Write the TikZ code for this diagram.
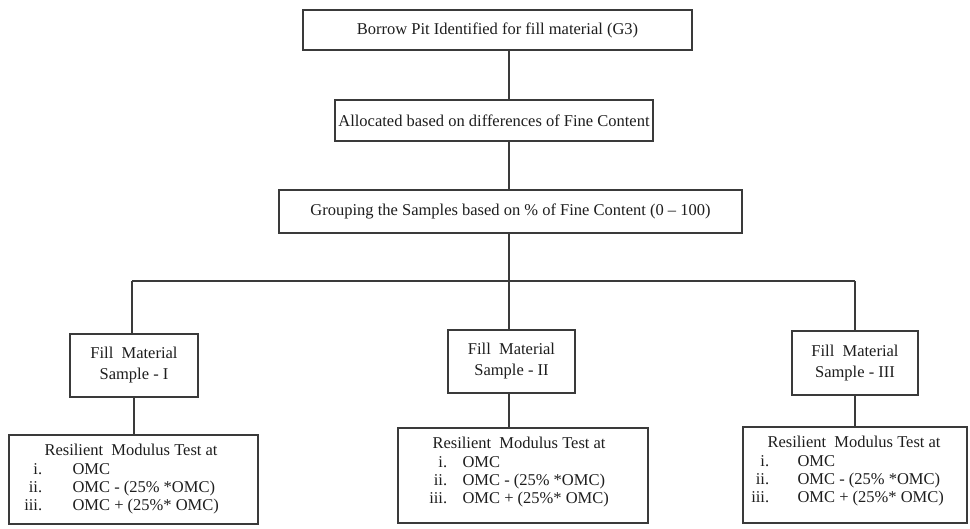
\documentclass[tikz,border=0pt]{standalone}
\usepackage{fontspec}
\setmainfont{Liberation Serif}
\usetikzlibrary{calc}
\definecolor{ln}{HTML}{3A3A3A}
\definecolor{tx}{HTML}{1E1E1E}
\newcommand{\rmtest}[4]{%
  \node[txt,anchor=base west] (#1t) at ($(#1.north west)+(#2,21)$) {Resilient\ \ Modulus Test at};
  \node[txt,anchor=base east] (#1a) at ($(#1.north west)+(#3,40)$) {i.};
  \node[txt,anchor=base east] (#1b) at ($(#1.north west)+(#3,58)$) {ii.};
  \node[txt,anchor=base east] (#1c) at ($(#1.north west)+(#3,76)$) {iii.};
  \node[txt,anchor=base west] (#1d) at ($(#1.north west)+(#4,40)$) {OMC};
  \node[txt,anchor=base west] (#1e) at ($(#1.north west)+(#4,58)$) {OMC - (25\% *OMC)};
  \node[txt,anchor=base west] (#1f) at ($(#1.north west)+(#4,76)$) {OMC + (25\%* OMC)};
}
\begin{document}
\begin{tikzpicture}[x=1pt,y=-1pt,
  box/.style={draw=ln,line width=1.3pt,rectangle,inner sep=0pt,text=tx,
    font=\fontsize{16.5}{21}\selectfont,align=center},
  txt/.style={inner sep=0pt,text=tx,font=\fontsize{16.5}{19}\selectfont},
  conn/.style={draw=ln,line width=1.3pt}]
\useasboundingbox (0,0) rectangle (970,528);
\fill[white] (0,0) rectangle (970,528);

\node[box,minimum width=389pt,minimum height=40pt] (b1) at (497.5,30) {Borrow Pit Identified for fill material (G3)};
\node[box,minimum width=318pt,minimum height=41pt] (b2) at (494,120.5) {Allocated based on differences of Fine Content};
\node[box,minimum width=463pt,minimum height=43pt] (b3) at (510.5,211.5) {Grouping the Samples based on \% of Fine Content (0 -- 100)};

\coordinate (hM) at (509,281);
\coordinate (hL) at (132,281);
\coordinate (hR) at (855,281);

\node[box,minimum width=128pt,minimum height=63pt] (s1) at (134,365.5) {Fill\ \ Material\\Sample - I};
\node[box,minimum width=127pt,minimum height=63pt] (s2) at (511.5,361.5) {Fill\ \ Material\\Sample - II};
\node[box,minimum width=126pt,minimum height=64pt] (s3) at (855,363) {Fill\ \ Material\\Sample - III};

\node[box,minimum width=249pt,minimum height=89pt] (r1) at (133.5,479.5) {};
\node[box,minimum width=250pt,minimum height=95pt] (r2) at (523,475.5) {};
\node[box,minimum width=224pt,minimum height=96pt] (r3) at (855,475) {};

\rmtest{r1}{36}{34}{64}
\rmtest{r2}{35}{50}{65}
\rmtest{r3}{25}{27}{55}

\draw[conn] (b1.south -| hM) -- (b2.north -| hM);
\draw[conn] (b2.south -| hM) -- (b3.north -| hM);
\draw[conn] (b3.south -| hM) -- (hM);
\draw[conn] (hL) -- (hR);
\draw[conn] (hL) -- (s1.north -| hL);
\draw[conn] (hM) -- (s2.north -| hM);
\draw[conn] (hR) -- (s3.north -| hR);
\draw[conn] (s1.south) -- (s1.south |- r1.north);
\draw[conn] (s2.south -| hM) -- (r2.north -| hM);
\draw[conn] (s3.south) -- (s3.south |- r3.north);
\end{tikzpicture}
\end{document}
